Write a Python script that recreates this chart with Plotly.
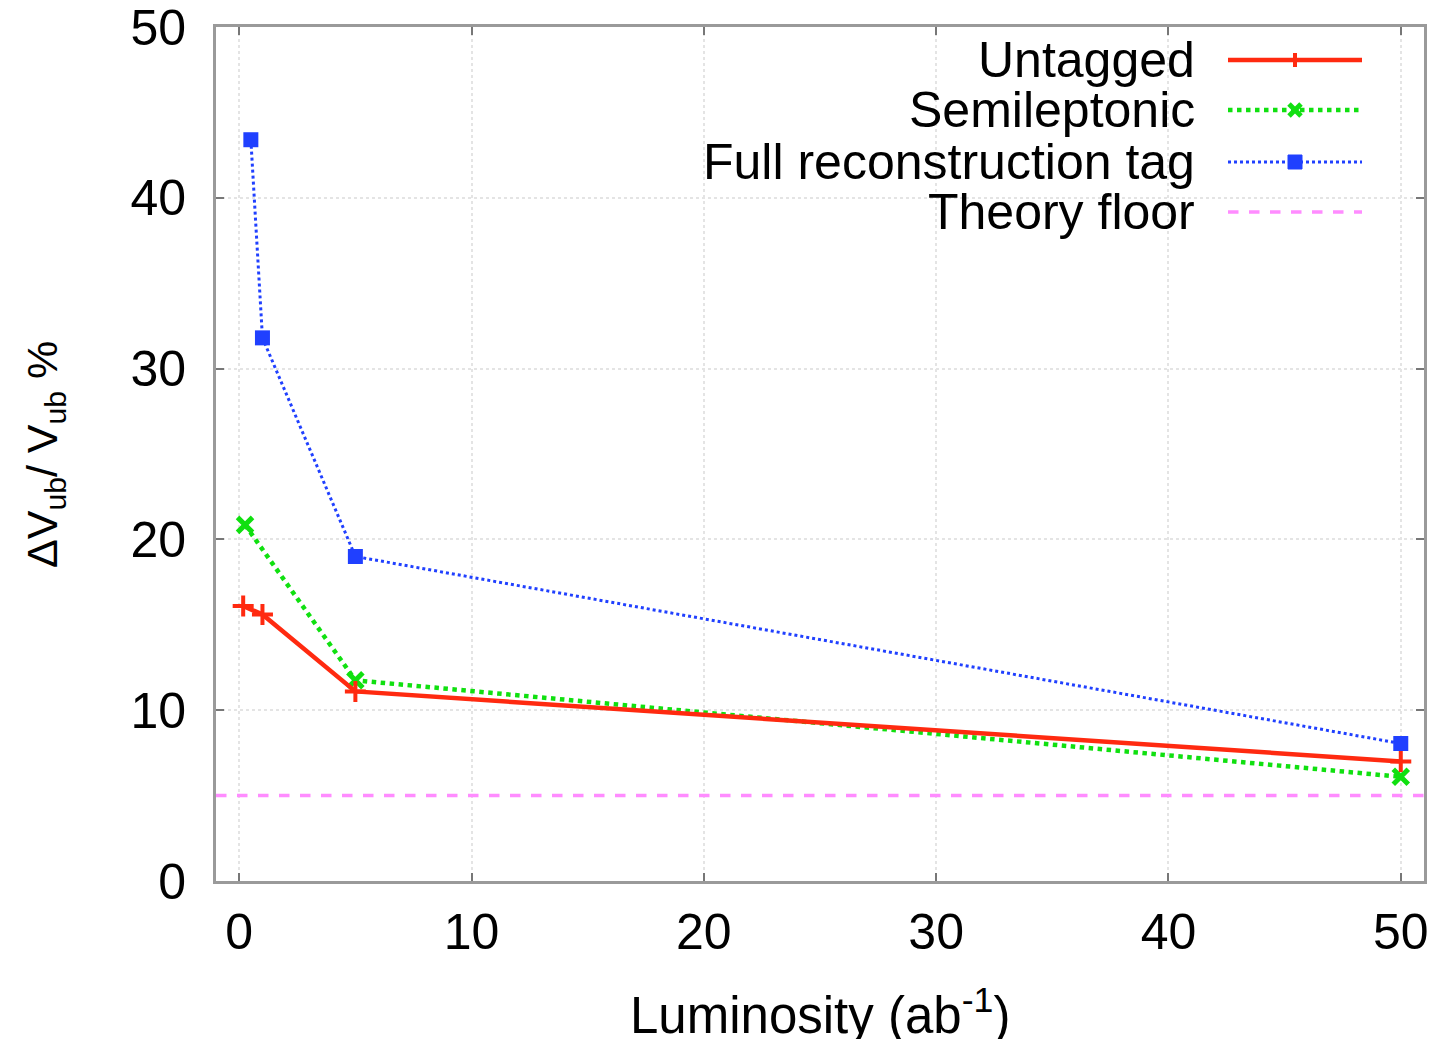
import plotly.graph_objects as go

# ---- data ----
lumi_untagged = [0.17, 1.0, 5.0, 50.0]
err_untagged = [16.1, 15.6, 11.1, 7.0]

lumi_semi = [0.25, 5.0, 50.0]
err_semi = [20.85, 11.75, 6.1]

lumi_full = [0.5, 1.0, 5.0, 50.0]
err_full = [43.4, 31.8, 19.0, 8.05]

theory_floor = 5.0

x_ticks = [0, 10, 20, 30, 40, 50]
y_ticks = [0, 10, 20, 30, 40, 50]
x_range = [-1, 51]
y_range = [0, 50]

series_names = ["Untagged", "Semileptonic", "Full reconstruction tag", "Theory floor"]

RED = "#ff2a10"
GREEN = "#10e010"
BLUE = "#2040ff"
PINK = "#ff8cff"
FONT = "Liberation Sans, Arial, Helvetica, sans-serif"

fig = go.Figure()

fig.add_trace(go.Scatter(
    x=x_range, y=[theory_floor, theory_floor], mode="lines",
    line=dict(color=PINK, width=3.5, dash="dash"), showlegend=False, name=series_names[3]))

fig.add_trace(go.Scatter(
    x=lumi_full, y=err_full, mode="lines+markers",
    line=dict(color=BLUE, width=3, dash="dot"),
    marker=dict(symbol="square", size=15, color=BLUE),
    showlegend=False, name=series_names[2]))

fig.add_trace(go.Scatter(
    x=lumi_semi, y=err_semi, mode="lines+markers",
    line=dict(color=GREEN, width=4.5, dash="dot"),
    marker=dict(symbol="x-thin", size=15, color=GREEN, line=dict(color=GREEN, width=5)),
    showlegend=False, name=series_names[1]))

fig.add_trace(go.Scatter(
    x=lumi_untagged, y=err_untagged, mode="lines+markers",
    line=dict(color=RED, width=4.5),
    marker=dict(symbol="cross-thin", size=15, color=RED, line=dict(color=RED, width=4)),
    showlegend=False, name=series_names[0]))

# ---- layout ----
L, R, T, B = 216, 16, 27, 158
W, H = 1440, 1039
pw, ph = W - L - R, H - T - B

def px_x(p):
    return (p - L) / pw

def px_y(p):
    return (H - B - p) / ph

axis_common = dict(
    showline=True, linecolor="#9a9a9a", linewidth=3, mirror="ticks",
    ticks="inside", ticklen=8, tickwidth=2, tickcolor="#777777",
    showgrid=True, gridcolor="#e4e4e4", griddash="dot", gridwidth=2,
    zeroline=False, automargin=False, ticklabeloverflow="allow",
    tickfont=dict(family=FONT, size=50, color="black"),
)

fig.update_layout(
    template="none",
    width=W, height=H,
    margin=dict(l=L, r=R, t=T, b=B, pad=0),
    paper_bgcolor="white", plot_bgcolor="white",
    showlegend=False,
    xaxis=dict(range=x_range, tickvals=x_ticks, ticklabelstandoff=5, **axis_common),
    yaxis=dict(range=y_range, tickvals=y_ticks, ticklabelstandoff=17, **axis_common),
)

annotations = [
    dict(text="Luminosity (ab<sup>-1</sup>)", x=0.5, y=px_y(1012), xref="paper", yref="paper",
         xanchor="center", yanchor="middle", showarrow=False,
         font=dict(family=FONT, size=51, color="black")),
    dict(text="ΔV<sub>ub</sub>/ V<sub>ub</sub> %", x=px_x(45), y=px_y(455), xref="paper", yref="paper",
         xanchor="center", yanchor="middle", showarrow=False, textangle=-90,
         font=dict(family=FONT, size=43, color="black")),
]

rows_y = [60, 110, 162, 212]
for name, yy in zip(series_names, rows_y):
    annotations.append(dict(
        text=name, x=px_x(1197), y=px_y(yy), xref="paper", yref="paper",
        xanchor="right", yanchor="middle", showarrow=False,
        font=dict(family=FONT, size=50, color="black")))

shapes = []
sx0, sx1, mxp = px_x(1228), px_x(1362), 1295
styles = [(RED, 4.5, "solid"), (GREEN, 4.5, "dot"), (BLUE, 3, "dot"), (PINK, 3.5, "dash")]
for (col, wd, dash), yy in zip(styles, rows_y):
    shapes.append(dict(type="line", xref="paper", yref="paper", x0=sx0, x1=sx1,
                       y0=px_y(yy), y1=px_y(yy), line=dict(color=col, width=wd, dash=dash)))
# legend marker glyphs
shapes.append(dict(type="line", xref="paper", yref="paper", x0=px_x(mxp), x1=px_x(mxp),
                   y0=px_y(rows_y[0] - 7), y1=px_y(rows_y[0] + 7), line=dict(color=RED, width=4)))
d = 6
for s in (1, -1):
    shapes.append(dict(type="line", xref="paper", yref="paper",
                       x0=px_x(mxp - d), x1=px_x(mxp + d),
                       y0=px_y(rows_y[1] - s * d), y1=px_y(rows_y[1] + s * d),
                       line=dict(color=GREEN, width=5)))
shapes.append(dict(type="rect", xref="paper", yref="paper",
                   x0=px_x(mxp - 7), x1=px_x(mxp + 7), y0=px_y(rows_y[2] - 7), y1=px_y(rows_y[2] + 7),
                   fillcolor=BLUE, line=dict(color=BLUE, width=1)))

fig.update_layout(annotations=annotations, shapes=shapes)

fig.write_html("out.html", config={"displayModeBar": False},
               post_script="document.body.style.margin='0';document.body.style.overflow='hidden';")
